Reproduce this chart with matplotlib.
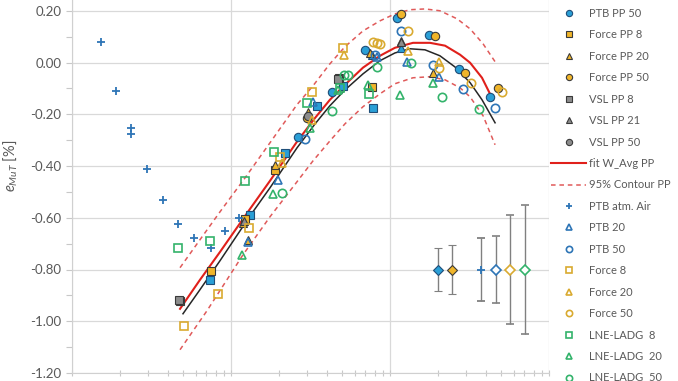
import matplotlib
matplotlib.use("Agg")
import matplotlib.pyplot as plt
from matplotlib.ticker import FuncFormatter, MultipleLocator, LogLocator, NullFormatter
from matplotlib.lines import Line2D

plt.rcParams['font.family'] = ['Lato', 'DejaVu Sans']
plt.rcParams['mathtext.fontset'] = 'custom'
plt.rcParams['mathtext.it'] = 'Lato:italic'
plt.rcParams['mathtext.rm'] = 'Lato'

# ---- data ----
ptb_pp8_x = [7.38, 13.2, 21.9, 34.7, 50.6, 78.2]
ptb_pp8_y = [-0.840, -0.589, -0.349, -0.167, -0.090, -0.175]
ptb_pp20_x = [76.5, 118]
ptb_pp20_y = [0.030, 0.057]
ptb_pp50_x = [26.4, 42.9, 69.6, 111, 177, 272, 426]
ptb_pp50_y = [-0.287, -0.113, 0.049, 0.173, 0.107, -0.024, -0.133]

force_pp8_x = [4.78, 7.48, 12.25, 18.9, 47.8, 76.5]
force_pp8_y = [-0.921, -0.805, -0.604, -0.415, -0.059, -0.094]
force_pp20_x = [11.9, 12.7, 18.9, 30.5, 74.8, 118, 186]
force_pp20_y = [-0.620, -0.685, -0.395, -0.191, 0.037, 0.084, -0.040]
force_pp50_x = [30.1, 118, 191, 298, 478]
force_pp50_y = [-0.214, 0.188, 0.103, -0.040, -0.098]

vsl_pp8_x = [4.71, 47.3]
vsl_pp8_y = [-0.917, -0.063]
vsl_pp21_x = [12.1, 117]
vsl_pp21_y = [-0.612, 0.080]
vsl_pp50_x = [30.5]
vsl_pp50_y = [-0.205]

fit_x = [4.78, 6.38, 8.53, 13.2, 17.6, 26.0, 33.8, 41.9, 52.1, 67.6, 86.5,
         107.5, 139.5, 178.5, 222, 276, 319, 379, 444]
fit_y = [-0.952, -0.840, -0.732, -0.565, -0.457, -0.306, -0.214, -0.144, -0.086,
         -0.020, 0.026, 0.057, 0.076, 0.076, 0.065, 0.030, -0.001, -0.059, -0.144]

fit_atm_x = [4.99, 6.38, 8.53, 13.2, 17.6, 26.0, 33.8, 41.9, 52.1, 67.6, 86.5,
             107.5, 133.6, 166, 206, 256, 319, 379, 458]
fit_atm_y = [-0.971, -0.878, -0.766, -0.592, -0.484, -0.330, -0.237, -0.167, -0.106,
             -0.044, 0.007, 0.037, 0.053, 0.049, 0.026, -0.017, -0.078, -0.144, -0.233]

up_x = [4.78, 6.38, 8.53, 12.25, 17.6, 26.0, 32.8, 41.9, 52.1, 67.6, 86.5,
        107.5, 133.6, 166, 206, 264, 319, 385, 458]
up_y = [-0.793, -0.685, -0.577, -0.446, -0.310, -0.163, -0.090, -0.005, 0.061,
        0.122, 0.161, 0.188, 0.204, 0.207, 0.200, 0.169, 0.130, 0.072, 0.003]
lo_x = [4.78, 7.07, 11.9, 17.6, 26.0, 32.8, 41.9, 52.1, 67.6, 86.5, 107.5,
        139.5, 178.5, 222, 276, 319, 385, 458]
lo_y = [-1.110, -0.959, -0.743, -0.596, -0.461, -0.380, -0.303, -0.237, -0.171,
        -0.121, -0.082, -0.059, -0.055, -0.067, -0.098, -0.133, -0.206, -0.318]

ptb_air_x = [1.52, 1.89, 2.35, 2.35, 2.96, 3.74, 4.64, 5.81, 7.48, 9.17, 11.3]
ptb_air_y = [0.080, -0.109, -0.252, -0.276, -0.411, -0.531, -0.624, -0.677,
             -0.716, -0.651, -0.600]
ptb20_x = [12.7, 19.7, 32.8, 83.4, 127, 202]
ptb20_y = [-0.693, -0.453, -0.152, 0.022, 0.003, -0.055]
ptb50_x = [29.2, 80.5, 118, 186, 288, 458]
ptb50_y = [-0.295, 0.030, 0.122, -0.009, -0.102, -0.175]

force8_x = [5.06, 8.23, 13.0, 20.3, 32.3, 50.6]
force8_y = [-1.017, -0.894, -0.639, -0.364, -0.113, 0.057]
force20_x = [20.9, 32.3, 51.7, 130, 202]
force20_y = [-0.387, -0.221, 0.030, 0.045, 0.003]
force50_x = [78.2, 83.4, 86.5, 130, 202, 321, 506]
force50_y = [0.080, 0.076, 0.072, 0.122, -0.020, -0.078, -0.113]

lne8_x = [4.64, 7.38, 12.25, 18.6, 30.1, 48.5, 73.8]
lne8_y = [-0.716, -0.689, -0.457, -0.345, -0.156, -0.098, -0.121]
lne20_x = [11.7, 18.4, 31.4, 46.8, 72.7, 116, 186]
lne20_y = [-0.743, -0.507, -0.252, -0.105, -0.086, -0.125, -0.078]
lne50_x = [20.9, 42.9, 51.7, 54.8, 83.4, 136, 212, 363]
lne50_y = [-0.503, -0.187, -0.048, -0.048, -0.017, -0.001, -0.133, -0.179]

# uncertainty indicators
unc_x = [200, 245, 375, 465, 570, 705]
unc_y = [-0.80, -0.80, -0.80, -0.80, -0.80, -0.80]
unc_err = [0.085, 0.094, 0.12, 0.13, 0.21, 0.25]

# ---- colours ----
blue = '#2a9fd6'
blue_dk = '#1f4e79'
blue_open = '#2e75b6'
gold = '#f0b52a'
gold_open = '#d9aa30'
gray = '#8c8c8c'
dark = '#3a3a3a'
green = '#33b36b'
red = '#e0201b'
red_dash = '#e05a5a'
txt = '#595959'

fig = plt.figure(figsize=(6.78, 3.81), dpi=100)
ax = fig.add_axes([72 / 678, 8 / 381, 477 / 678, 414 / 381])

ax.plot(up_x, up_y, color=red_dash, lw=1.1, ls=(0, (3, 2.5)), zorder=2)
ax.plot(lo_x, lo_y, color=red_dash, lw=1.1, ls=(0, (3, 2.5)), zorder=2)
ax.plot(fit_atm_x, fit_atm_y, color='#262626', lw=1.1, zorder=2)
ax.plot(fit_x, fit_y, color=red, lw=1.5, zorder=2)

filled = dict(ls='none', ms=6, mew=0.8, zorder=3)
opened = dict(ls='none', ms=6, mew=1.2, mfc='none', zorder=3)

series = [
    (ptb_pp8_x, ptb_pp8_y, dict(marker='s', mfc=blue, mec=blue_dk, **filled)),
    (ptb_pp20_x, ptb_pp20_y, dict(marker='^', mfc=blue, mec=blue_dk, **filled)),
    (ptb_pp50_x, ptb_pp50_y, dict(marker='o', mfc=blue, mec=blue_dk, **filled)),
    (force_pp8_x, force_pp8_y, dict(marker='s', mfc=gold, mec=dark, **filled)),
    (force_pp20_x, force_pp20_y, dict(marker='^', mfc=gold, mec=dark, **filled)),
    (force_pp50_x, force_pp50_y, dict(marker='o', mfc=gold, mec=dark, **filled)),
    (vsl_pp8_x, vsl_pp8_y, dict(marker='s', mfc=gray, mec=dark, **filled)),
    (vsl_pp21_x, vsl_pp21_y, dict(marker='^', mfc=gray, mec=dark, **filled)),
    (vsl_pp50_x, vsl_pp50_y, dict(marker='o', mfc=gray, mec=dark, **filled)),
    (ptb_air_x, ptb_air_y, dict(marker='+', color=blue_open, ls='none', ms=6, mew=1.3, zorder=3)),
    (ptb20_x, ptb20_y, dict(marker='^', mec=blue_open, **opened)),
    (ptb50_x, ptb50_y, dict(marker='o', mec=blue_open, **opened)),
    (force8_x, force8_y, dict(marker='s', mec=gold_open, **opened)),
    (force20_x, force20_y, dict(marker='^', mec=gold_open, **opened)),
    (force50_x, force50_y, dict(marker='o', mec=gold_open, **opened)),
    (lne8_x, lne8_y, dict(marker='s', mec=green, **opened)),
    (lne20_x, lne20_y, dict(marker='^', mec=green, **opened)),
    (lne50_x, lne50_y, dict(marker='o', mec=green, **opened)),
]
for sx, sy, st in series:
    ax.plot(sx, sy, **st)

unc_style = [
    dict(marker='D', mfc=blue, mec=blue_dk, mew=0.8),
    dict(marker='D', mfc=gold, mec=dark, mew=0.8),
    dict(marker='+', mfc=blue_open, mec=blue_open, mew=1.3),
    dict(marker='D', mfc='white', mec=blue_open, mew=1.2),
    dict(marker='D', mfc='white', mec=gold_open, mew=1.2),
    dict(marker='D', mfc='white', mec=green, mew=1.2),
]
for ux, uy, ue, st in zip(unc_x, unc_y, unc_err, unc_style):
    ax.errorbar([ux], [uy], yerr=[ue], ecolor='#808080', elinewidth=1, capsize=3,
                capthick=1, ms=5.5, ls='none', zorder=4, **st)

ax.set_xscale('log')
ax.set_xlim(1, 1000)
ax.set_ylim(-1.2, 0.4)
ax.yaxis.set_major_locator(MultipleLocator(0.2))
ax.yaxis.set_minor_locator(MultipleLocator(0.1))
ax.yaxis.set_major_formatter(FuncFormatter(lambda v, p: f'{v:.2f}'))
ax.xaxis.set_minor_locator(LogLocator(base=10, subs=range(2, 10)))
ax.xaxis.set_minor_formatter(NullFormatter())
ax.grid(True, which='major', color='#d9d9d9', lw=0.9)
ax.set_axisbelow(True)
for s in ['top', 'right']:
    ax.spines[s].set_visible(False)
for s in ['left', 'bottom']:
    ax.spines[s].set_color('#d0d0d0')
ax.tick_params(axis='y', which='both', colors='#c8c8c8', labelcolor=txt,
               labelsize=9.5, length=4, width=0.8)
ax.tick_params(axis='x', which='both', colors='#c8c8c8', direction='inout',
               length=4, width=0.8, labelbottom=False)
ax.set_ylabel(r'$e_{MuT}$ [%]', fontsize=10.5, color=txt, labelpad=8)

labels = ['PTB PP 8', 'PTB PP 20', 'PTB PP 50', 'Force PP 8', 'Force PP 20',
          'Force PP 50', 'VSL PP 8', 'VSL PP 21', 'VSL PP 50', 'fit W_Avg PP',
          '95% Contour PP', 'PTB atm. Air', 'PTB 20', 'PTB 50', 'Force 8',
          'Force 20', 'Force 50', 'LNE-LADG  8', 'LNE-LADG  20', 'LNE-LADG  50']
handles = []
for sx, sy, st in series[:9]:
    handles.append(Line2D([], [], **{k: v for k, v in st.items() if k != 'zorder'}))
handles.append(Line2D([], [], color=red, lw=1.5))
handles.append(Line2D([], [], color=red_dash, lw=1.1, ls=(0, (3, 2.5))))
for sx, sy, st in series[9:]:
    handles.append(Line2D([], [], **{k: v for k, v in st.items() if k != 'zorder'}))

leg = fig.legend(handles, labels, loc='upper left', bbox_to_anchor=(547 / 678, 1.1035),
                 frameon=False, fontsize=8, labelspacing=0.94, handlelength=3.1,
                 handletextpad=0.3, borderpad=0.4, borderaxespad=0, markerscale=0.75)
for t in leg.get_texts():
    t.set_color(txt)

fig.savefig('out.png', dpi=100)
